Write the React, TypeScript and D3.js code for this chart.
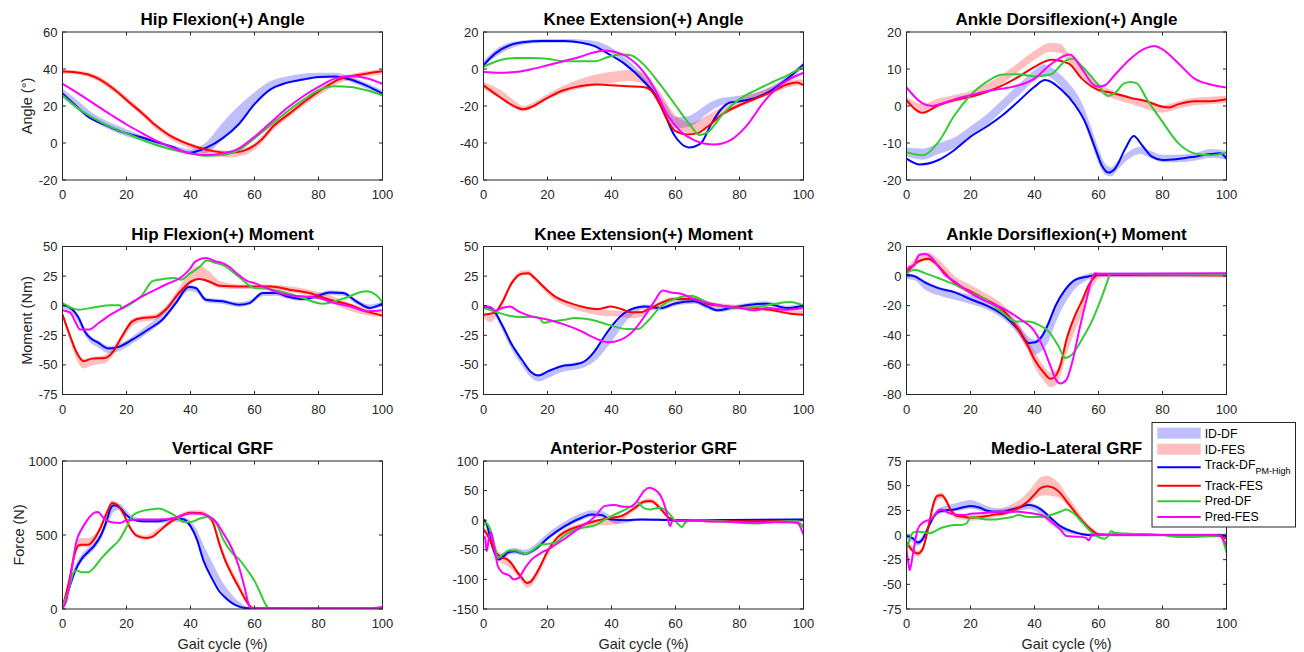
import React from 'react';
import * as d3 from 'd3';

type P = [number, number];
type B = [number, number, number]; // gait %, mean, half-width

// ---------------- categories / ticks ----------------
const X_TICKS = [0, 20, 40, 60, 80, 100];
const LEGEND_LABELS = ['ID-DF', 'ID-FES', 'Track-DF', 'Track-FES', 'Pred-DF', 'Pred-FES'];
const LEGEND_SUB = 'PM-High';

// ---------------- Hip Flexion(+) Angle ----------------
const hipAngIdDf: B[] = [[0,27,2.5],[5,20,2.5],[10,13.5,2],[15,9,2],[20,5.5,2],[25,2.5,1.5],[30,-0.5,1.5],[35,-3,1.5],[40,-5,1.5],[45,-2.4,3],[50,6.4,4.5],[55,15,5],[60,24,3.5],[65,31,2.5],[70,34,2],[75,35.5,2],[80,36.5,1.5],[85,36.5,1.5],[90,34.5,1.5],[95,31,1.5],[100,27,1.5]];
const hipAngIdFes: B[] = [[0,38.5,1],[4,38.2,1],[8,37,1.2],[12,34,1.5],[16.5,28.5,1.5],[20.7,22.5,1.5],[25,16,1.5],[29,9.5,1.5],[33.3,4,1.5],[37.4,0.3,1.5],[41.6,-2.5,1.5],[47,-5,1.8],[52,-6,1.8],[56.3,-5,1.8],[59.4,-2.5,1.8],[62.6,2.5,1.8],[65.7,8.5,1.8],[71,16,1.8],[76.2,23,1.8],[81.4,29,1.8],[86.6,34,1.5],[91.8,36.3,1.5],[100,38.5,1.5]];
const hipAngTrackDf: P[] = [[0,26.7],[4,20.4],[8,14.2],[13.5,9.7],[18.6,6],[24,3.4],[29,0.7],[34.3,-2],[39.5,-5.3],[45,-2.5],[50,2.5],[55,10],[60,21],[65,29],[70,32.5],[75,34.3],[80,35.7],[85,36],[90,34.3],[95,31],[100,26.7]];
const hipAngTrackFes: P[] = [[0,38.6],[4,38.3],[8,37],[12,34],[16.5,28.5],[20.7,22.2],[25,16],[29,9.7],[33.3,4.3],[37.4,0.7],[41.6,-2],[47,-4.4],[52,-5.3],[56.3,-4.4],[59.4,-2],[62.6,2.5],[65.7,8.8],[71,16],[76.2,23.1],[81.4,29.4],[86.6,34.5],[91.8,36.6],[100,38.8]];
const hipAngPredDf: P[] = [[0,25.8],[5,18.6],[10,13.2],[15,8.7],[20,5.2],[25,1.6],[30,-1.5],[35,-3.8],[40,-5.6],[45,-6.9],[50,-6.5],[55,-3.8],[60,2.5],[65,9.6],[70,16.8],[75,23],[80,28.5],[85,30.7],[90,30.3],[95,28.5],[100,25.8]];
const hipAngPredFes: P[] = [[0,32],[5,26.7],[10,21],[15,15.4],[20,10],[25,5.2],[30,0.7],[35,-3],[40,-5.6],[45,-6.5],[50,-5.6],[55,-3],[60,3.4],[65,11],[70,18.6],[75,25],[80,30.3],[85,34.8],[90,36.2],[95,35],[100,32]];

// ---------------- Knee Extension(+) Angle ----------------
const kneeAngIdDf: B[] = [[0,3,1.5],[5,10,2],[10,13.5,1.5],[15,14.8,1],[20,15.2,1],[25,15.2,1],[30,15,1],[35,13.5,1.5],[40,10,1.5],[45,3.5,1.5],[50,-5.5,2],[54,-14,2.5],[57,-22,3],[60,-29,3],[63.7,-28.5,3],[65.8,-27,3],[70,-21.4,2.5],[74,-17.8,2],[78,-16.3,1.5],[85,-14.5,1.5],[90,-11,1.5],[95,-5,1.5],[100,2,1.5]];
const kneeAngIdFes: B[] = [[0,-9,2],[5,-13.5,2.5],[10,-19.5,2],[12.4,-21.5,1.5],[15,-20,1.5],[20,-15,1.5],[25,-11,2],[30,-8,2.5],[35,-6,3],[40,-4.5,3],[45,-3.5,3],[50,-5,3],[55,-15,3],[60,-28,3],[65,-32,3],[70,-28,3],[75,-22.5,2.5],[80,-18.5,2],[85,-15,2],[90,-11.5,2],[95,-8,2],[100,-7,1.5]];
const kneeAngTrackDf: P[] = [[0,2],[3.6,8.3],[8.8,13.2],[13,14.6],[18,15.1],[25.4,15.1],[30.6,14.2],[34.7,12.4],[38.9,8.3],[44,2.9],[50.3,-7],[53.4,-13.3],[56.5,-24],[59.6,-35.7],[61.7,-40.2],[64.2,-42.4],[67.9,-40.2],[71,-30.3],[74,-22.3],[77,-18.1],[80.3,-17.4],[85,-15.6],[90,-11.5],[95,-5.2],[100,2.4]];
const kneeAngTrackFes: P[] = [[0,-8.8],[5,-15],[10,-20.5],[12.4,-21.8],[15,-20.5],[20,-15.6],[25,-11.5],[30,-9.3],[35,-8.4],[40,-8.8],[45,-9.3],[50,-9.7],[52.3,-11.5],[55,-18.7],[57.5,-27.6],[60,-33.6],[63.7,-35.4],[66.8,-34.8],[70,-31.2],[75,-24],[80,-19.6],[85,-16],[90,-12.4],[95,-8.2],[98,-7.3],[100,-8.8]];
const kneeAngPredDf: P[] = [[0,1.1],[5,4.7],[10,6],[15,6],[20,5.6],[25,4.2],[30,4.2],[35,4.2],[38.9,6.5],[43,7.8],[46,7.4],[50,2.5],[55,-7.9],[60,-19.6],[65,-31.2],[67.5,-35.7],[70,-34.3],[75,-24],[80,-16.3],[85,-11.5],[90,-7.3],[95,-3.4],[100,1.1]];
const kneeAngPredFes: P[] = [[0,-1.6],[5,-2],[10,-1.6],[15,-0.1],[20,2],[25,4.2],[30,6.5],[35,9.2],[38,10],[40,9.6],[45,6.5],[50,-1.6],[53.4,-10.6],[57.5,-24.9],[61.7,-33.9],[65.8,-38.4],[72,-40.8],[77.2,-38.4],[82.4,-30.3],[87.6,-17.8],[92.7,-8.8],[100,-2]];

// ---------------- Ankle Dorsiflexion(+) Angle ----------------
const ankAngIdDf: B[] = [[0,-12.4,1.2],[5,-13,1.5],[10,-11.5,1.5],[15,-10,1.5],[20,-7,1.5],[25,-3.8,1.5],[30,0.2,1.5],[35,4.3,1.5],[40,8.3,1.5],[43,9.8,1.5],[46,8.5,1.5],[50,5,1.8],[55,-1.5,2],[58,-8.5,2],[60,-13.5,2],[62,-17,1.5],[64,-17.8,1.2],[66,-16,1.2],[70,-13,1],[73,-12,1],[76,-13,1],[80,-14.2,1],[85,-14.2,1],[90,-13.8,1],[95,-12.8,1.2],[100,-13.3,1.2]];
const ankAngIdFes: B[] = [[0,1.6,1],[5,-0.5,1],[10,1,1],[15,2,1],[20,3,1],[25,4.8,1.2],[30,7.3,1.2],[35,10.5,1.2],[40,13.7,1.2],[45,15.8,1.2],[48,15.6,1.2],[50,13.7,1.2],[55,9,1.2],[60,5,1.2],[65,2.9,1],[70,1.6,1],[75,0.2,1],[80,-0.8,1],[85,0.3,1],[90,1.2,1],[95,1.5,1],[100,1.8,1]];
const ankAngTrackDf: P[] = [[0,-14.2],[4.2,-15.8],[10,-14.6],[15,-11.9],[20,-8.3],[25,-5.6],[30,-2.5],[35,1.3],[40,5.2],[43.3,7],[48.5,4.3],[52.7,0.2],[55.8,-4.3],[59,-11.5],[61,-16],[63.2,-18],[65.2,-16.9],[68.4,-11.5],[71,-8.1],[73.6,-10.6],[76.7,-13.7],[80,-14.6],[85,-14.3],[90,-13.7],[95,-13],[98,-12.8],[100,-14.2]];
const ankAngTrackFes: P[] = [[0,1.6],[5,-1.8],[10,0.2],[15,1.6],[20,2.5],[25,3.8],[30,5.6],[35,7.9],[40,10.6],[45.4,12.5],[50.6,11.5],[54.8,7.4],[59,4.7],[65,3.4],[70,2.2],[75,1.3],[80,-0.2],[82,-0.4],[85,0.5],[90,1.3],[95,1.3],[100,1.8]];
const ankAngPredDf: P[] = [[0,-12.5],[5,-13.3],[10,-9.7],[15,-2.5],[20,2.9],[25,6.5],[30,8.5],[35,8.6],[40,8],[45,8.5],[50,12.4],[52,12.8],[55,10.6],[60,5.6],[63,2.7],[65,3.4],[68,6.1],[70,6.5],[72,6.1],[75,2],[80,-4.3],[85,-10.1],[90,-12.8],[95,-13.3],[100,-12.6]];
const ankAngPredFes: P[] = [[0,5],[5,0.7],[8,0],[10,0.4],[15,1.8],[20,2.9],[25,4],[30,4.7],[35,5.6],[40,7.4],[45,11.2],[51,13.9],[54.8,10.1],[58,6.1],[60,5.2],[62,5.6],[65,8.3],[70,12.8],[75,15.7],[77.5,16.2],[80,15.3],[85,11.5],[90,7.4],[95,5.8],[100,5]];

// ---------------- Hip Flexion(+) Moment ----------------
const hipMomIdDf: B[] = [[0,0,2],[3,-4,2.5],[5,-11,3],[7,-22,3],[9,-29,3],[11,-32,3],[14.4,-37,3],[17.6,-35.5,3],[21.8,-29,3],[27,-19,3.5],[31.2,-10,3.5],[35.4,3.5,3],[39.5,15,2.5],[41.6,14,2.5],[44.8,5,2],[50,3.5,2],[55.2,1,2],[58.4,2.5,2],[62.6,10,2],[66.7,10.5,2],[70.9,7.5,2],[75.1,6,2],[79.3,8,2],[83.5,11,2],[87.7,10.5,2],[91.8,3.5,2],[96,-1,2],[100,1.5,2]];
const hipMomIdFes: B[] = [[0,-7,2],[2.4,-27,3],[4.5,-42,4],[6.6,-49,4],[9.2,-47,3.5],[13.4,-45,3.5],[15.5,-40,3],[18.6,-27,3],[21.8,-14,3],[24.9,-11,2.5],[29,-9.5,2.5],[32.2,-3,2.5],[36.4,12,3],[39.5,23,5],[42.7,28,6],[45.8,24,5],[49,18,3],[55,16,2],[60,16,2],[65,16,2],[70.9,14,2.5],[77.2,11,2.5],[83.5,6,3],[89.7,-1,3],[95,-5,3],[100,-7.5,2]];
const hipMomTrackDf: P[] = [[0,0.8],[3,-3],[5,-10],[7,-22],[9,-28],[11,-31],[14.4,-36.2],[17.6,-34.8],[21.8,-28.7],[27,-19.7],[31.2,-11.8],[35.4,2.2],[39.5,15.7],[41.6,14.9],[44.8,5],[50,3.7],[55.2,0.8],[58.4,2.2],[62.6,10.7],[66.7,10.7],[70.9,7.3],[75.1,5.6],[79.3,7.9],[83.5,11.2],[87.7,10.7],[91.8,3.7],[96,-1.9],[100,1.7]];
const hipMomTrackFes: P[] = [[0,-7.6],[2.4,-25.8],[4.5,-39.9],[6.6,-46.9],[9.2,-44.7],[13.4,-44.1],[15.5,-39.9],[18.6,-25.8],[21.8,-13.2],[24.9,-10.4],[29,-9.6],[32.2,-3.4],[36.4,10.7],[39.5,19.1],[42.7,22.5],[45.8,20.5],[49,16.9],[55,16.3],[60,16.3],[65,16.3],[70.9,13.5],[77.2,10.7],[83.5,5],[89.7,0.8],[95,-4.8],[100,-8.4]];
const hipMomPredDf: P[] = [[0,2.2],[3,-2],[5,-3.4],[10,-1.4],[15,0.3],[18,0.3],[18.6,-2.6],[20,-0.6],[25,9.3],[28,20.5],[30,21.9],[35,23.3],[37,21.9],[40,27.5],[43,33.1],[45,38.2],[48,36],[50,34.5],[55,24.7],[60,15],[65,14],[70,10.7],[75,6.5],[81.4,1.7],[87.7,6],[95,12.1],[98,9],[100,2.8]];
const hipMomPredFes: P[] = [[0,-3.9],[2.4,-5.9],[4,-13.5],[5.5,-20.2],[8.2,-20.2],[11.3,-14.6],[15,-7.6],[18.6,-2],[24.9,7.9],[32.2,17.7],[37.4,24.7],[39.5,30],[41.6,37.4],[44.8,40.2],[48,37.4],[50,36],[52,33.1],[55,26.1],[58,20.5],[60,19.1],[65,13.5],[70,9.3],[75,7.9],[80,6.5],[85,2.2],[90,-0.6],[95,-4.8],[100,-3.9]];

// ---------------- Knee Extension(+) Moment ----------------
const kneeMomIdDf: B[] = [[0,-1,2],[2.6,-3,2],[5.7,-17,3],[8.8,-34,3],[11.9,-47,3],[15,-58,3],[17.1,-61,3],[20.2,-58,3],[24.4,-53,3],[28.5,-51,3],[31.6,-49,3],[34.7,-43,4],[37.8,-33,5],[40.9,-22,5],[44,-11,4],[47.2,-4,2.5],[50.3,-1,2],[55.4,-2,2],[59.6,1.7,2],[65.8,3.7,2],[69.9,-0.6,2],[73.1,-3.5,2],[77.2,-2,2],[83.4,0.8,2],[88.6,1.7,2],[94.8,-2,2],[100,0,2]];
const kneeMomIdFes: B[] = [[0,-8,2],[2,-11,3],[3.6,-8,3],[5.7,1,2],[8.8,19,2],[11.9,27.5,2],[14,28,2],[16,23,2],[19.2,14,2],[22.3,6.5,2],[26.4,1,2],[30.6,-3,2],[35.8,-5.5,2.5],[40,-6.5,2.5],[43,-7,2.5],[46.1,-8,2.5],[49.2,-7,2.5],[51.3,-4,2],[55.4,2,2],[59.6,5.5,2],[65.8,5.5,2],[69.9,2,2],[76.2,-0.6,2],[83.4,-2,2],[89.6,-3,2],[95.9,-5.5,2],[100,-6,2]];
const kneeMomTrackDf: P[] = [[0,-0.6],[2.6,-2.2],[5.7,-15.7],[8.8,-32.6],[11.9,-45.2],[15,-56.4],[17.1,-59],[20.2,-55.3],[24.4,-51.1],[28.5,-49.7],[31.6,-46.9],[34.7,-38.5],[37.8,-25.8],[40.9,-14.6],[44,-6.2],[47.2,-2],[50.3,-0.6],[55.4,-2],[59.6,1.7],[65.8,3.7],[69.9,-0.6],[73.1,-3.9],[77.2,-2],[83.4,0.8],[88.6,1.7],[94.8,-2],[100,0]];
const kneeMomTrackFes: P[] = [[0,-7.6],[3.6,-5.6],[5.7,2.2],[8.8,19.1],[11.9,27],[14,27.5],[16,23.3],[19.2,14.9],[22.3,7.9],[26.4,2.8],[30.6,-0.6],[35.8,-2.8],[39.9,-0.6],[43,-2.8],[46.1,-5.6],[49.2,-5.6],[51.3,-3.4],[55.4,2.2],[59.6,5.6],[65.8,5.6],[69.9,1.7],[76.2,-0.6],[83.4,-2],[89.6,-3.4],[95.9,-6.7],[100,-7.6]];
const kneeMomPredDf: P[] = [[0,-2],[3.6,-5],[8,-8.4],[12,-9.6],[16,-9.3],[17.5,-10.5],[18.8,-14.5],[21.2,-13.2],[25.4,-11.8],[28.5,-10.4],[33.7,-11.8],[38.9,-16],[45,-19.7],[48.2,-19.7],[51.3,-13.2],[55.4,-0.6],[59.6,5.6],[64.8,8.4],[70,2.8],[75,-0.6],[80.3,-2],[85.5,-1.1],[90.7,1.4],[95.9,3.1],[100,0]];
const kneeMomPredFes: P[] = [[0,-0.6],[2.1,-1.1],[3.6,-4.2],[5.7,-2],[8.3,-0.6],[10.9,-4.8],[15,-9],[20.2,-11.8],[25.4,-16],[30.6,-21.6],[34.7,-27.2],[38.9,-30.9],[43,-28.6],[47.2,-20.2],[50.3,-9],[53.4,3.7],[56,12.9],[58.5,11.2],[61.7,10.1],[65.8,5.6],[70,2.2],[76.2,-0.6],[80.3,-2],[84.5,-4],[88.6,-2],[94.8,-3.4],[100,-2]];

// ---------------- Ankle Dorsiflexion(+) Moment ----------------
const ankMomIdDf: B[] = [[0,0,2],[2.6,-1,2],[5.7,-6,3],[9.9,-10,3],[15.1,-13,3],[20.4,-16,3],[25.6,-20,3],[30.8,-27,3],[35,-36,3.5],[38.1,-45,4],[40.2,-48,5],[42.3,-45,5.5],[44.4,-38,6],[46.5,-26,6],[49.6,-13,5],[52.7,-5,3.5],[55,-2,2.5],[57,0,2],[60,1,1.5],[100,1,1.5]];
const ankMomIdFes: B[] = [[0,2,2],[2.6,9,3],[5,13,3],[7,13,3],[9,10,3],[12,4,3],[15,-3,3],[20,-9,3],[25,-15,3],[30,-22,3],[35,-36,3.5],[38,-47,4],[40,-56,5],[43,-66,5],[45,-70,5],[47,-68,5],[48,-63,5],[50,-48,5],[53,-30,5],[55,-20,4.5],[57,-9,4],[59,-2,2.5],[61,0.5,1.5],[100,0.5,1.5]];
const ankMomTrackDf: P[] = [[0,0.9],[2.6,-0.2],[5.7,-4.2],[9.9,-8.1],[15.1,-11],[20.4,-16],[25.6,-20.4],[30.8,-27.2],[35,-36.2],[38.1,-45.2],[40.2,-44.7],[42.3,-40.7],[44.4,-31.7],[46.5,-20.4],[49.6,-9.2],[52.7,-2.5],[56.9,-0.2],[60,0.9],[100,0.9]];
const ankMomTrackFes: P[] = [[0,2],[2.6,8.3],[5,11],[6.8,11.7],[9,8.8],[12,2],[15,-4.7],[20,-10.3],[25,-16],[30,-22.7],[35,-36.2],[38,-47.4],[40,-56.4],[43,-65.4],[45,-69.4],[46,-68.7],[48,-60.9],[50,-42.9],[53,-24.9],[55,-16],[57,-5.8],[59,-0.2],[60,0.9],[100,0.5]];
const ankMomPredDf: P[] = [[0,2],[2.6,4.3],[5.7,2],[9.9,-1.3],[15.1,-5.8],[20.4,-11.5],[25.6,-17.1],[30.8,-26.1],[33.9,-30.6],[38.1,-30.6],[41.2,-32.8],[44.4,-37.3],[47.5,-47.4],[49.6,-55.3],[51.7,-53.1],[54.8,-42.9],[57.9,-30.6],[60.5,-17.1],[62.6,-4.7],[63.7,1.4],[100,0.9]];
const ankMomPredFes: P[] = [[0,3.1],[1,6.5],[2,6.5],[4,14.4],[6,15],[8,12.1],[10,6.5],[12,0.9],[15,-3.6],[20,-11.5],[25,-17.1],[30,-21.6],[35,-28.3],[40,-37.3],[43,-49.7],[45,-60.9],[47,-71],[48,-72.6],[50,-69.9],[52,-56.4],[54,-36.2],[56,-18.2],[58,-1.3],[59,2],[60,1.6],[100,2]];

// ---------------- Vertical GRF ----------------
const vgrfIdDf: B[] = [[0,5,5],[2,140,20],[4,270,25],[6,345,25],[8,390,25],[10,430,25],[12,495,25],[14,600,30],[16,680,25],[18,690,20],[20,645,20],[22,610,15],[25,598,15],[30,595,15],[35,605,15],[38,600,20],[40,570,25],[42,500,35],[44,390,45],[47,260,45],[49,180,40],[51,115,35],[53,65,30],[55,32,20],[57,12,10],[60,3,5],[100,3,3]];
const vgrfIdFes: B[] = [[0,5,5],[2,190,25],[4,400,30],[5,445,30],[6,450,30],[8,450,30],[10,480,25],[12,555,20],[14,660,20],[15.5,720,15],[17,708,15],[19,648,15],[21,556,15],[23,500,15],[26,482,15],[30,532,15],[33,577,15],[35,607,15],[38,640,15],[40,653,15],[43,650,15],[45,636,15],[47,590,20],[49,450,25],[51,330,25],[53,240,25],[55,160,25],[57,75,20],[59,12,10],[61,3,3],[100,3,3]];
const vgrfTrackDf: P[] = [[0,11],[2,136],[4,260],[6,339],[8,385],[10,430],[12,498],[14,611],[15,679],[16,701],[18,683],[20,633],[22,604],[25,593],[30,593],[35,611],[38,605],[40,560],[42,470],[44,330],[47,195],[49,120],[51,75],[53,40],[55,18],[57,7],[59,4],[100,4]];
const vgrfTrackFes: P[] = [[0,11],[2,181],[4,385],[5,430],[6,434],[8,434],[10,475],[12,554],[14,656],[15.5,717],[17,706],[19,645],[21,554],[23,498],[26,480],[28,486],[30,520],[33,577],[35,605],[38,638],[40,651],[43,649],[45,633],[47,585],[49,440],[51,320],[53,230],[55,150],[57,70],[59,10],[60,5],[100,4]];
const vgrfPredDf: P[] = [[0,11],[2,136],[3.5,249],[4.5,260],[6,249],[8,249],[10,283],[12,339],[15,407],[18,475],[20,554],[22,633],[25,663],[28,674],[30,679],[33,656],[35,633],[38,588],[40,588],[43,611],[45,622],[48,580],[50,480],[53,380],[55,340],[58,255],[60,190],[62,100],[63.5,30],[64.5,5],[100,4]];
const vgrfPredFes: P[] = [[0,5],[1.2,56],[2.8,259],[4.4,462],[6,540],[7,577],[8.5,622],[10,651],[11,656],[13,611],[15,588],[18,581],[20,599],[25,604],[30,604],[35,615],[38,638],[40,645],[43,645],[45,633],[48,588],[50,520],[53,407],[55,294],[57,136],[58,45],[59,7],[96,5],[100,14]];

// ---------------- Anterior-Posterior GRF ----------------
const apIdDf: B[] = [[0,0,3],[1,-8,4],[2.6,-42,5],[4.7,-64,5],[5.7,-62,5],[7.8,-54,5],[9.8,-52,5],[13,-55,5],[16.1,-47,6],[20.2,-27,6],[25.4,-8,6],[30.6,6,6],[33.7,11,6],[36.8,10,6],[39.9,2,5],[42,-3,4],[45,-1,3],[49,1,2],[55,1,2],[60,0,2],[100,1,2]];
const apIdFes: B[] = [[0,-15,5],[2,-32,6],[3,-46,7],[5,-62,8],[7,-68,8],[9,-78,6],[10,-85,6],[12,-99,6],[13.5,-108,6],[14.5,-107,6],[16,-97,6],[18,-78,6],[20,-55,6],[23,-32,6],[25,-23,6],[30,-11,5],[35,-4,5],[40,-2,6],[43,3,5],[45,11,4],[48,23,4],[50,31,4],[52,33,4],[53,32,4],[55,22,4],[58,4,3],[60,-0.5,2],[100,-2,2]];
const apTrackDf: P[] = [[0,1.2],[1,-7.2],[2.6,-41.1],[4.7,-66.5],[5.7,-63.7],[7.8,-54],[9.8,-52.4],[13,-56.9],[16.1,-49.5],[20.2,-29.8],[25.4,-10],[30.6,4.1],[33.7,9.7],[36.8,8.6],[39.9,1.2],[45,0.1],[49.2,1.2],[60,0],[100,1.2]];
const apTrackFes: P[] = [[0,-15.7],[2,-32.6],[3,-46.7],[5,-60.8],[6,-63.6],[7,-64.8],[9,-74.9],[10,-83.4],[12,-97.5],[13.5,-106],[14.5,-104.8],[16,-94.7],[18,-74.9],[20,-52.4],[23,-29.8],[25,-21.3],[30,-10],[35,-1.5],[40,4.1],[43,6.9],[45,12.6],[48,23.8],[50,31.2],[52,32.3],[53,31],[55,21],[58,4.1],[60,-0.4],[65,-0.4],[70,-1.6],[95,-1.6],[98,-4.4],[100,-10]];
const apPredDf: P[] = [[0,-10],[0.8,-4.5],[1.5,-8.4],[2.5,-21.3],[3.5,-43.9],[4.5,-63.7],[6,-58],[8,-51.2],[10,-51.2],[12,-55.2],[13,-56.9],[15,-52.4],[18,-41.1],[20,-40],[23,-36.6],[25,-27],[28,-17.4],[30,-14],[35,-8.4],[38,1.2],[40,6.9],[45,19.9],[47,26.6],[48,30.6],[50,21],[52,18.2],[55,21],[57,16.5],[60,-1.6],[61,-7.2],[62,-11.7],[63,-4.5],[65,0],[70,-0.6],[75,-1.6],[80,-4.5],[85,-5.6],[90,-3.4],[95,-1.6],[98,-1.6],[100,-12.9]];
const apPredFes: P[] = [[0,-27],[0.5,-29.8],[1,-52.4],[1.7,-29.8],[2.3,-21.3],[3,-35.4],[4.5,-77.8],[6,-89],[8,-93],[9.5,-100.3],[11,-97.5],[13,-80.6],[15,-66.5],[18,-55.2],[20,-49.5],[25,-32.6],[30,-12.9],[35,6.9],[37.8,23.8],[41,25.5],[44,22.7],[46,22.7],[48,32.3],[50.3,50.3],[51.8,54.9],[53.4,52],[55.4,40.8],[57,18.2],[58.3,-10],[59,-1.6],[65,-0.6],[70,-1.6],[80,-3.4],[83,-4.5],[90,-3.4],[95,-3.4],[98,-4.5],[100,-24.3]];

// ---------------- Medio-Lateral GRF ----------------
const mlIdDf: B[] = [[0,-2,2],[2,-5,2.5],[3.5,-8,3],[5,-4,3],[6.5,4,3],[8,16,3],[10,24,3],[12,26,3.5],[15,28,4],[18,30,4.5],[20,31,4.5],[23,28.5,4],[25,26,3.5],[28,24,3],[30,23.5,3],[33,25,3],[35,27,3],[38,29,3],[40,28,3.5],[42,24,4],[45,15,4],[48,8,3],[50,5,2.5],[53,2,2],[55,0.7,1.5],[60,0,1.5],[100,0,1.5]];
const mlIdFes: B[] = [[0,-6,2.5],[2,-15,3],[3.5,-19,3],[5,-15,3],[7,9,4],[8.5,31,4],[9.5,38,3.5],[11,40,3],[12.5,34,3],[14,24,3],[16,19,3],[18,18.5,3],[20,17.5,3],[23,18,3],[25,19.5,3],[28,22,3.5],[30,23.5,4],[33,27,4.5],[35,30,5],[38,37,6.5],[40,44,8],[42,49,9.5],[44,50,10],[46,48,9],[48,44,7],[50,36,5],[52,28,4],[55,15,3],[58,5,2],[60,1,1.5],[62,0,1],[100,0,1]];
const mlTrackDf: P[] = [[0,-1],[2,-3.4],[3.5,-7.7],[5,-4.4],[6.5,5.7],[8,15.8],[10,23.6],[12,24.9],[15,25.9],[18,28.3],[20,29.3],[23,27.6],[25,24.9],[28,23.6],[30,23.6],[33,25.9],[35,27.6],[38,30.3],[40,29.3],[42,25.9],[45,17.5],[48,9.1],[50,5.7],[53,2.4],[55,0.7],[58,-0.3],[60,0],[70,0.7],[80,0],[90,-0.3],[98,-0.3],[100,-1]];
const mlTrackFes: P[] = [[0,-7.7],[2,-16.2],[3.5,-18.8],[5,-14.5],[7,10.8],[8.5,32.6],[9.5,39.4],[11,40.4],[12.5,34.3],[14,24.2],[16,19.2],[18,18.5],[20,17.5],[23,18.2],[25,19.2],[28,20.9],[30,21.5],[33,24.9],[35,27.6],[38,34.3],[40,41.1],[42,47.8],[44,49.5],[46,47.8],[48,42.7],[50,34.3],[52,25.9],[55,14.1],[58,4.7],[60,0.7],[65,0],[95,0],[98,-1],[100,-4]];
const mlPredDf: P[] = [[0,-14.5],[1,-4.4],[2,2.4],[3,3.4],[5,3],[7,1.7],[9,4],[11,7.4],[13,9.1],[15,10.1],[17,10.1],[18,10.8],[19,12.5],[20,18.2],[22,17.5],[25,15.8],[28,15.8],[30,16.8],[33,18.2],[35,20.2],[38,18.2],[40,18.2],[43,18.2],[45,20.2],[48,23.6],[50,25.9],[52,22.5],[55,12.5],[58,2.4],[60,-2],[62,-3.7],[63,-1],[64,4],[65,2.4],[70,1.3],[75,0.7],[80,0],[85,-2],[90,-2],[95,-1.3],[98,-1],[100,-17.8]];
const mlPredFes: P[] = [[0,-14.5],[0.5,-26.2],[1,-35.7],[2,-19.5],[3.5,5.7],[5,12.5],[6,14.1],[8,16.8],[9,20.9],[10,24.9],[11,25.9],[13,22.5],[15,20.9],[18,20.2],[20,21.5],[25,22.5],[28,23.6],[30,23.6],[35,23.6],[38,22.5],[40,21.5],[43,19.2],[45,14.1],[48,5.7],[50,-1],[53,-1.7],[56,-2.7],[57,-5.4],[58,0.7],[60,0],[70,0],[80,0],[90,0],[95,0],[98,-1],[100,-11]];

// ---------------- panel definitions ----------------
interface PanelDef {
  title: string;
  yDomain: [number, number];
  yTicks: number[];
  yLabel?: string;
  xLabel?: string;
  idDf: B[]; idFes: B[];
  trackDf: P[]; trackFes: P[]; predDf: P[]; predFes: P[];
}

const PANELS: PanelDef[] = [
  { title: 'Hip Flexion(+) Angle', yDomain: [-20, 60], yTicks: [-20, 0, 20, 40, 60], yLabel: 'Angle (°)',
    idDf: hipAngIdDf, idFes: hipAngIdFes, trackDf: hipAngTrackDf, trackFes: hipAngTrackFes, predDf: hipAngPredDf, predFes: hipAngPredFes },
  { title: 'Knee Extension(+) Angle', yDomain: [-60, 20], yTicks: [-60, -40, -20, 0, 20],
    idDf: kneeAngIdDf, idFes: kneeAngIdFes, trackDf: kneeAngTrackDf, trackFes: kneeAngTrackFes, predDf: kneeAngPredDf, predFes: kneeAngPredFes },
  { title: 'Ankle Dorsiflexion(+) Angle', yDomain: [-20, 20], yTicks: [-20, -10, 0, 10, 20],
    idDf: ankAngIdDf, idFes: ankAngIdFes, trackDf: ankAngTrackDf, trackFes: ankAngTrackFes, predDf: ankAngPredDf, predFes: ankAngPredFes },
  { title: 'Hip Flexion(+) Moment', yDomain: [-75, 50], yTicks: [-75, -50, -25, 0, 25, 50], yLabel: 'Moment (Nm)',
    idDf: hipMomIdDf, idFes: hipMomIdFes, trackDf: hipMomTrackDf, trackFes: hipMomTrackFes, predDf: hipMomPredDf, predFes: hipMomPredFes },
  { title: 'Knee Extension(+) Moment', yDomain: [-75, 50], yTicks: [-75, -50, -25, 0, 25, 50],
    idDf: kneeMomIdDf, idFes: kneeMomIdFes, trackDf: kneeMomTrackDf, trackFes: kneeMomTrackFes, predDf: kneeMomPredDf, predFes: kneeMomPredFes },
  { title: 'Ankle Dorsiflexion(+) Moment', yDomain: [-80, 20], yTicks: [-80, -60, -40, -20, 0, 20],
    idDf: ankMomIdDf, idFes: ankMomIdFes, trackDf: ankMomTrackDf, trackFes: ankMomTrackFes, predDf: ankMomPredDf, predFes: ankMomPredFes },
  { title: 'Vertical GRF', yDomain: [0, 1000], yTicks: [0, 500, 1000], yLabel: 'Force (N)', xLabel: 'Gait cycle (%)',
    idDf: vgrfIdDf, idFes: vgrfIdFes, trackDf: vgrfTrackDf, trackFes: vgrfTrackFes, predDf: vgrfPredDf, predFes: vgrfPredFes },
  { title: 'Anterior-Posterior GRF', yDomain: [-150, 100], yTicks: [-150, -100, -50, 0, 50, 100], xLabel: 'Gait cycle (%)',
    idDf: apIdDf, idFes: apIdFes, trackDf: apTrackDf, trackFes: apTrackFes, predDf: apPredDf, predFes: apPredFes },
  { title: 'Medio-Lateral GRF', yDomain: [-75, 75], yTicks: [-75, -50, -25, 0, 25, 50, 75], xLabel: 'Gait cycle (%)',
    idDf: mlIdDf, idFes: mlIdFes, trackDf: mlTrackDf, trackFes: mlTrackFes, predDf: mlPredDf, predFes: mlPredFes },
];

// ---------------- layout & style ----------------
const W = 1304, H = 652;
const COL_X = [62.5, 483.5, 906.5];
const ROW_Y = [32, 246.5, 461];
const PW = 320, PH = 148;
const YLABEL_X = [32, 32, 24];
const AXIS = '#262626';
const FONT = '"Liberation Sans", Arial, Helvetica, sans-serif';
const C_DF = '#0000ff';
const C_FES = '#ff0000';
const C_PDF = '#33cc33';
const C_PFES = '#ff00ff';
const LW = 2;
const TICK = 3.5;

function Panel({ def, col, row, idx }: { def: PanelDef; col: number; row: number; idx: number }) {
  const left = COL_X[col], top = ROW_Y[row];
  const x = d3.scaleLinear().domain([0, 100]).range([left, left + PW]);
  const y = d3.scaleLinear().domain(def.yDomain).range([top + PH, top]);
  const line = d3.line<P>().x(d => x(d[0])).y(d => y(d[1])).curve(d3.curveMonotoneX);
  const area = d3.area<B>().x(d => x(d[0])).y0(d => y(d[1] - d[2])).y1(d => y(d[1] + d[2])).curve(d3.curveMonotoneX);
  const clipId = `clip-${idx}`;
  const bottom = top + PH, right = left + PW;
  return (
    <g>
      <defs>
        <clipPath id={clipId}><rect x={left} y={top} width={PW} height={PH} /></clipPath>
      </defs>
      <g clipPath={`url(#${clipId})`}>
        <path d={area(def.idDf) || ''} fill={C_DF} fillOpacity={0.25} />
        <path d={area(def.idFes) || ''} fill={C_FES} fillOpacity={0.25} />
        <path d={line(def.trackDf) || ''} fill="none" stroke={C_DF} strokeWidth={LW} strokeLinejoin="round" />
        <path d={line(def.trackFes) || ''} fill="none" stroke={C_FES} strokeWidth={LW} strokeLinejoin="round" />
        <path d={line(def.predDf) || ''} fill="none" stroke={C_PDF} strokeWidth={LW} strokeLinejoin="round" />
        <path d={line(def.predFes) || ''} fill="none" stroke={C_PFES} strokeWidth={LW} strokeLinejoin="round" />
      </g>
      <rect x={left} y={top} width={PW} height={PH} fill="none" stroke={AXIS} strokeWidth={1} />
      {X_TICKS.map(t => (
        <g key={'x' + t}>
          <line x1={x(t)} x2={x(t)} y1={bottom} y2={bottom - TICK} stroke={AXIS} />
          <line x1={x(t)} x2={x(t)} y1={top} y2={top + TICK} stroke={AXIS} />
          <text x={x(t)} y={bottom + 19} textAnchor="middle" fontSize={13} fill={AXIS}>{t}</text>
        </g>
      ))}
      {def.yTicks.map(t => (
        <g key={'y' + t}>
          <line x1={left} x2={left + TICK} y1={y(t)} y2={y(t)} stroke={AXIS} />
          <line x1={right} x2={right - TICK} y1={y(t)} y2={y(t)} stroke={AXIS} />
          <text x={left - 5} y={y(t)} dy="0.35em" textAnchor="end" fontSize={13} fill={AXIS}>{t}</text>
        </g>
      ))}
      <text x={left + PW / 2} y={top - 7} textAnchor="middle" fontSize={17} fontWeight="bold" fill="#000">{def.title}</text>
      {def.yLabel && (
        <text transform={`translate(${YLABEL_X[row]},${top + PH / 2}) rotate(-90)`} textAnchor="middle" fontSize={14.5} fill={AXIS}>{def.yLabel}</text>
      )}
      {def.xLabel && (
        <text x={left + PW / 2} y={bottom + 40} textAnchor="middle" fontSize={14.5} fill={AXIS}>{def.xLabel}</text>
      )}
    </g>
  );
}

function Legend() {
  const bx = 1152, by = 422.5, bw = 143.5, bh = 104.5;
  const rows = [433.2, 449.2, 467.3, 485.7, 501.3, 517];
  const textY = [438, 453.7, 468.5, 489.7, 505.3, 520.7];
  const sx1 = 1157.3, sx2 = 1200.7, tx = 1204.7;
  const kinds = [
    { band: true, color: C_DF }, { band: true, color: C_FES },
    { band: false, color: C_DF }, { band: false, color: C_FES },
    { band: false, color: C_PDF }, { band: false, color: C_PFES },
  ];
  return (
    <g>
      <rect x={bx} y={by} width={bw} height={bh} fill="#fff" stroke={AXIS} strokeWidth={1} />
      {kinds.map((k, i) => (
        <g key={i}>
          {k.band
            ? <rect x={sx1} y={rows[i] - 5.5} width={sx2 - sx1} height={11} fill={k.color} fillOpacity={0.25} />
            : <line x1={sx1} x2={sx2} y1={rows[i]} y2={rows[i]} stroke={k.color} strokeWidth={LW} />}
          <text x={tx} y={textY[i]} fontSize={12.3} fill="#000">
            {LEGEND_LABELS[i]}
            {i === 2 && <tspan fontSize={9} dy={5}>{LEGEND_SUB}</tspan>}
          </text>
        </g>
      ))}
    </g>
  );
}

export default function App() {
  return (
    <svg width={W} height={H} viewBox={`0 0 ${W} ${H}`} style={{ position: 'absolute', left: 0, top: 0, background: '#fff' }} fontFamily={FONT}>
      <rect width={W} height={H} fill="#fff" />
      {PANELS.map((p, i) => (
        <Panel key={i} def={p} col={i % 3} row={Math.floor(i / 3)} idx={i} />
      ))}
      <Legend />
    </svg>
  );
}
